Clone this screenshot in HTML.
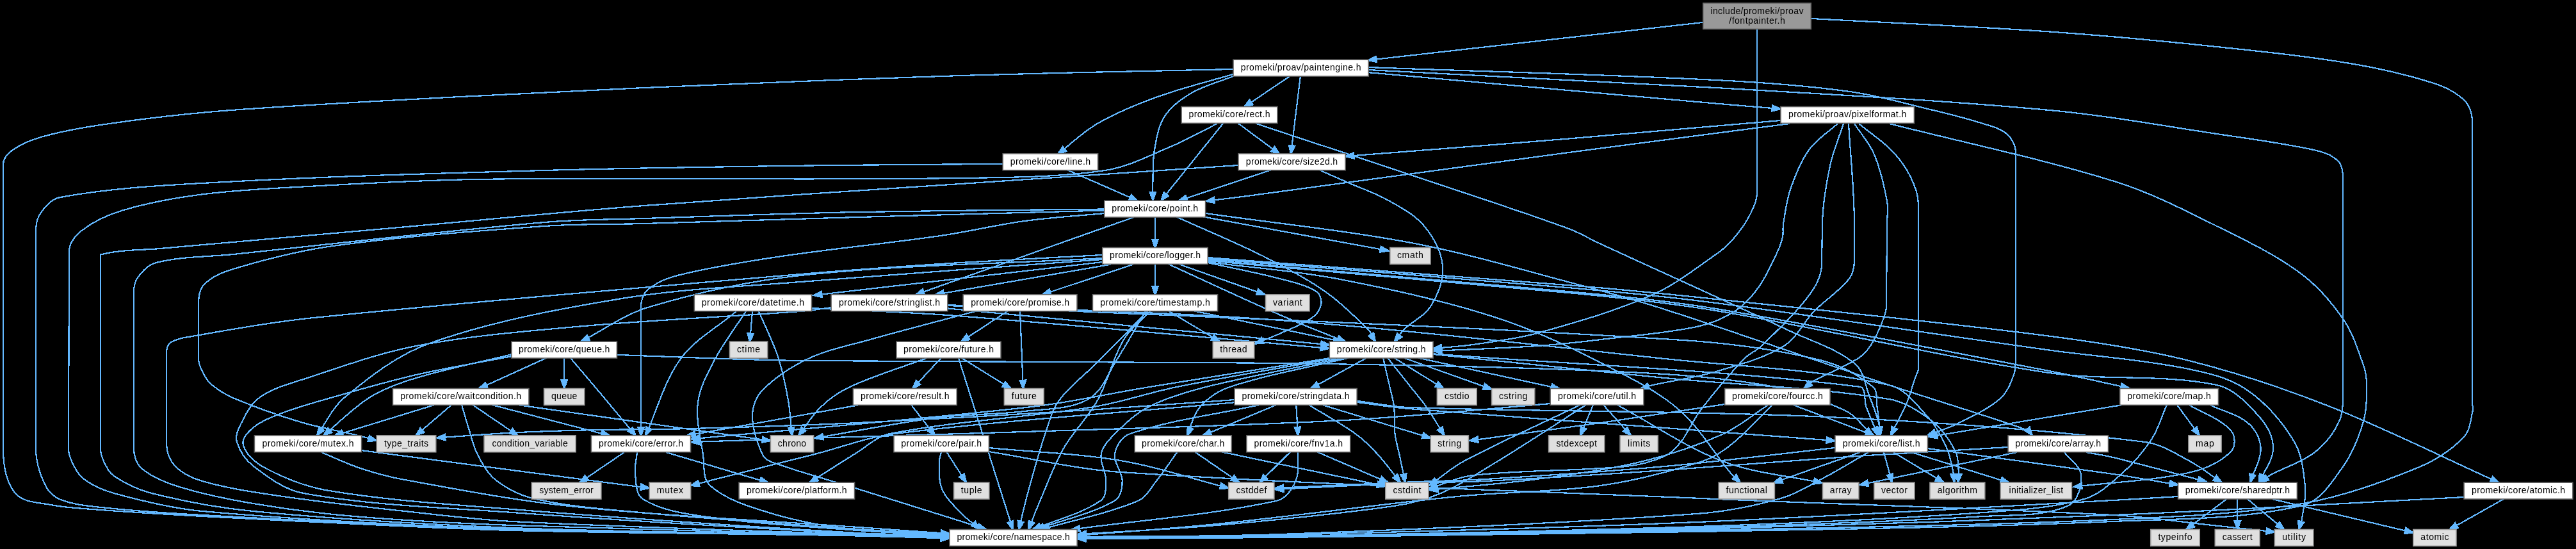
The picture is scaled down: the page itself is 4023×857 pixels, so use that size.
<!DOCTYPE html><html><head><meta charset="utf-8"><style>html,body{margin:0;padding:0;background:#000;width:4023px;height:857px;overflow:hidden}svg{display:block}text{font-family:"Liberation Sans",sans-serif;}</style></head><body><svg width="4023" height="857" viewBox="0 0 4023 857">
<g fill="none" stroke="#63b8ff" stroke-width="2.20" shape-rendering="crispEdges">
<path d="M2097.3,558.8 C2026.4,573.8 1954.8,586.1 1884.5,603.8 C1853.5,611.6 1822.3,620.5 1793.9,635.1 C1773.9,645.3 1757.2,661.3 1741.2,677.1 C1732.3,686.0 1722.2,696.0 1719.8,708.5 C1717.2,722.4 1727.5,736.2 1727.3,750.5 C1727.1,761.3 1727.7,775.8 1718.7,781.8 C1686.7,803.1 1647.9,811.8 1612.5,826.8"/>
<path d="M2167.2,558.8 C2179.1,573.8 2191.1,588.8 2202.9,603.8 C2211.2,614.2 2220.0,624.2 2227.5,635.1 C2237.6,649.7 2246.4,665.1 2255.8,680.1"/>
<path d="M2177.6,558.8 L2254.9,606.8"/>
<path d="M2160.1,558.8 C2163.5,573.8 2167.0,588.8 2170.4,603.8 C2172.7,614.2 2175.9,624.5 2177.1,635.1 C2178.6,649.0 2176.9,663.2 2178.5,677.1 C2179.6,687.7 2183.0,698.0 2185.2,708.5 C2188.4,723.4 2191.5,738.4 2194.7,753.4"/>
<path d="M2192.8,558.8 L2329.9,607.6"/>
<path d="M2078.0,558.8 C1984.1,573.8 1890.3,588.5 1796.5,603.8 C1734.5,613.9 1673.1,628.0 1610.7,635.1 C1433.6,655.3 1255.8,668.7 1078.3,685.5"/>
<path d="M2087.3,558.8 C2004.5,573.8 1921.4,587.2 1838.9,603.8 C1794.9,612.6 1752.3,627.9 1708.0,635.1 C1602.3,652.4 1494.5,656.4 1389.5,677.1 C1369.0,681.1 1353.1,697.6 1335.3,708.5 C1311.3,723.0 1287.9,738.4 1264.3,753.4"/>
<path d="M2237.9,552.3 C2460.0,569.5 2683.1,576.7 2904.3,603.8 C2915.2,605.1 2910.6,624.8 2914.5,635.1 C2920.2,650.3 2926.8,665.1 2933.0,680.1"/>
<path d="M2134.1,558.8 L2046.7,606.8"/>
<path d="M2105.4,558.8 C2044.1,573.8 1981.4,584.0 1921.4,603.8 C1903.5,609.7 1886.8,621.0 1874.3,635.1 C1863.3,647.5 1860.5,665.1 1853.5,680.1"/>
<path d="M2215.4,558.8 L2435.9,606.8"/>
<path d="M3547.7,778.8 L3769.1,831.5"/>
<path d="M3494.4,778.8 L3494.3,826.8"/>
<path d="M3509.7,778.8 L3567.4,826.8"/>
<path d="M3477.7,778.8 L3413.8,826.8"/>
<path d="M1966.8,632.1 C1899.5,647.1 1830.2,655.0 1764.9,677.1 C1752.4,681.3 1743.2,695.5 1741.1,708.5 C1738.7,722.8 1752.8,735.9 1752.7,750.5 C1752.7,761.6 1750.4,776.3 1740.6,781.8 C1702.5,803.3 1658.4,811.8 1617.3,826.8"/>
<path d="M2065.1,632.1 L2234.5,683.8"/>
<path d="M2044.1,632.1 C2068.3,647.1 2093.6,660.5 2116.8,677.1 C2129.4,686.1 2140.5,697.1 2150.9,708.5 C2164.0,722.6 2175.1,738.4 2187.2,753.4"/>
<path d="M2024.3,632.1 L2027.1,680.1"/>
<path d="M1928.3,628.2 C1751.2,644.5 1573.6,655.5 1397.1,677.1 C1355.1,682.3 1315.1,698.0 1274.0,708.5 C1208.8,725.0 1143.6,741.5 1078.4,758.0"/>
<path d="M1993.2,632.1 L1878.1,680.1"/>
<path d="M2026.9,705.5 C2025.8,720.5 2029.7,736.7 2023.7,750.5 C2017.9,763.7 2007.8,778.7 1993.6,781.8 C1888.1,804.7 1779.8,811.8 1672.9,826.8"/>
<path d="M2057.1,705.5 L2168.1,753.4"/>
<path d="M2015.1,705.5 L1967.0,753.4"/>
<path d="M1838.6,705.5 C1827.8,720.5 1817.8,736.0 1806.2,750.5 C1797.3,761.5 1790.5,776.3 1777.4,781.8 C1728.7,802.3 1676.1,811.8 1625.4,826.8"/>
<path d="M1908.1,705.5 L2164.1,759.1"/>
<path d="M1866.1,705.5 L1935.9,753.4"/>
<path d="M1479.7,481.4 L2076.5,538.4"/>
<path d="M1479.7,477.0 C1859.9,494.8 2240.5,506.8 2620.5,530.5 C2694.8,535.1 2769.2,544.4 2841.5,561.8 C2871.8,569.1 2900.7,584.1 2924.8,603.8 C2933.1,610.5 2929.9,624.6 2931.5,635.1 C2933.9,650.0 2935.0,665.1 2936.7,680.1"/>
<path d="M3910.4,778.8 L3825.0,826.8"/>
<path d="M1865.0,485.5 L2096.2,533.4"/>
<path d="M1825.2,485.5 L1905.3,533.4"/>
<path d="M881.2,558.8 L881.2,606.8"/>
<path d="M853.3,558.8 L747.6,606.8"/>
<path d="M768.3,632.1 L952.4,680.1"/>
<path d="M705.0,632.1 L649.2,680.1"/>
<path d="M809.1,632.1 L1203.7,688.1"/>
<path d="M738.3,632.1 L809.0,680.1"/>
<path d="M678.5,632.1 L522.2,680.1"/>
<path d="M1573.8,485.5 L1500.8,533.4"/>
<path d="M1447.7,558.8 C1407.6,573.8 1366.3,585.9 1327.5,603.8 C1310.8,611.5 1295.4,622.5 1282.1,635.1 C1268.3,648.2 1258.6,665.1 1246.9,680.1"/>
<path d="M1501.8,558.8 L1579.0,606.8"/>
<path d="M1469.7,558.8 L1425.1,606.8"/>
<path d="M1342.1,632.1 L1072.2,680.1"/>
<path d="M1423.1,632.1 L1460.4,680.1"/>
<path d="M1478.3,705.5 L1509.1,753.4"/>
<path d="M1927.0,108.0 C1784.7,111.3 1642.3,113.5 1500.0,118.0 C1335.3,123.2 1170.6,130.0 1006.0,137.0 C904.0,141.3 802.0,146.7 700.0,152.0 C633.7,155.4 567.3,158.9 501.0,163.0 C440.3,166.7 379.5,169.9 319.0,175.5 C264.8,180.5 210.8,186.9 157.0,195.0 C125.7,199.7 94.4,205.3 64.0,214.0 C48.5,218.4 33.1,224.7 20.0,234.0 C12.8,239.1 5.0,247.1 5.0,256.0 L5.0,700.0 C5.0,724.2 8.4,751.5 24.0,770.0 C36.4,784.8 60.1,784.3 79.0,788.0 C105.0,793.0 131.6,794.0 158.0,796.0 C210.6,800.0 263.3,803.0 316.0,806.0 C368.6,809.0 421.3,811.6 474.0,814.0 C582.7,818.9 691.3,825.2 800.0,828.0 C980.0,832.6 1160.0,833.0 1340.0,836.0 C1387.7,836.8 1435.3,838.3 1483.0,839.5"/>
<path d="M1567.0,256.0 C1478.0,256.7 1389.0,256.8 1300.0,258.0 C1150.0,260.1 1000.0,261.8 850.0,266.0 C677.6,270.8 505.2,275.4 333.0,285.0 C253.1,289.4 172.7,293.5 94.0,308.0 C80.3,310.5 69.5,323.2 62.0,335.0 C56.0,344.4 56.0,356.8 56.0,368.0 L56.0,700.0 C56.0,720.0 62.2,740.0 71.0,758.0 C75.8,767.8 84.9,776.0 95.0,780.0 C114.9,787.8 136.7,789.7 158.0,792.0 C210.5,797.7 263.3,801.1 316.0,804.0 C477.3,812.8 638.6,821.9 800.0,827.0 C979.9,832.7 1160.0,832.9 1340.0,836.5 C1387.7,837.4 1435.3,839.2 1483.0,840.5"/>
<path d="M1901.0,193.0 C1876.7,205.0 1853.0,218.6 1828.0,229.0 C1794.6,242.9 1761.8,260.7 1726.0,266.0 C1651.4,277.1 1575.4,276.9 1500.0,278.0 C1283.4,281.2 1066.7,278.2 850.0,279.0 C800.0,279.2 750.0,279.4 700.0,281.0 C633.3,283.1 566.6,286.2 500.0,290.0 C439.6,293.5 379.0,295.5 319.0,303.0 C275.8,308.4 232.7,316.1 191.0,328.5 C168.4,335.2 146.3,345.6 127.5,360.0 C117.6,367.6 108.0,379.5 108.0,392.0 L107.0,700.0 C107.0,706.9 109.0,713.8 112.0,720.0 C116.8,729.7 121.4,740.5 130.0,747.0 C144.1,757.7 160.9,765.3 178.0,770.0 C223.3,782.4 269.3,793.8 316.0,798.0 C477.0,812.5 638.5,820.0 800.0,826.0 C979.9,832.7 1160.0,832.3 1340.0,836.0 C1387.7,837.0 1435.3,838.7 1483.0,840.0"/>
<path d="M1934.0,258.0 C1789.3,267.7 1644.7,277.2 1500.0,287.0 C1335.3,298.2 1170.6,308.2 1006.0,321.0 C878.5,330.9 751.3,343.7 624.0,355.0 C499.3,366.0 374.7,377.0 250.0,388.0 C222.0,390.5 193.4,389.4 166.0,395.5 L157.0,397.5 L157.0,700.0 C157.0,706.9 159.0,713.8 162.0,720.0 C166.1,728.4 170.2,737.8 178.0,743.0 C196.0,755.0 216.0,764.7 237.0,770.0 C288.8,783.1 341.8,792.9 395.0,798.0 C529.7,810.9 664.8,818.6 800.0,824.0 C979.9,831.1 1160.0,831.5 1340.0,835.5 C1387.7,836.5 1435.3,837.8 1483.0,839.0"/>
<path d="M1725.0,326.5 C1596.7,328.0 1468.3,328.4 1340.0,331.0 C1228.6,333.2 1117.3,337.4 1006.0,341.0 C954.0,342.7 901.8,342.5 850.0,347.0 C687.8,361.2 526.0,380.2 364.0,397.0 C324.0,401.2 283.0,400.1 244.0,410.0 C231.4,413.2 221.3,424.2 214.0,435.0 C208.9,442.6 209.0,452.8 209.0,462.0 L209.0,700.0 C209.0,711.1 212.6,723.7 221.0,731.0 C236.8,744.7 257.1,752.7 277.0,759.0 C315.5,771.2 355.2,779.2 395.0,786.0 C447.3,794.9 500.1,801.6 553.0,806.0 C635.2,812.9 717.6,817.0 800.0,820.0 C979.9,826.6 1160.0,830.3 1340.0,835.0 C1387.7,836.3 1435.3,837.0 1483.0,838.0"/>
<path d="M1725.0,328.5 C1596.7,332.0 1468.3,335.3 1340.0,339.0 C1228.7,342.2 1117.3,345.8 1006.0,349.0 C954.0,350.5 901.9,349.3 850.0,353.0 C739.8,360.9 629.4,368.9 520.0,384.0 C467.1,391.3 415.1,404.6 364.0,420.0 C347.3,425.0 329.7,432.0 318.0,445.0 C310.0,453.9 310.0,468.0 310.0,480.0 L310.0,560.0 C310.0,567.0 312.9,573.8 316.0,580.0 C319.6,587.3 323.8,594.8 330.0,600.0 C340.8,609.0 353.0,616.5 366.0,622.0 C399.9,636.3 434.7,648.5 470.0,659.0 C499.5,667.8 530.1,672.7 560.0,680.0 C569.6,682.3 579.0,685.3 588.5,688.0"/>
<path d="M1722.0,398.0 C1648.0,402.0 1574.0,405.3 1500.0,410.0 C1416.6,415.3 1333.2,420.9 1250.0,428.0 C996.6,449.6 743.0,470.2 490.0,496.0 C426.3,502.5 363.1,514.0 300.0,525.0 C288.4,527.0 275.8,528.4 266.0,535.0 C261.0,538.4 260.0,546.0 260.0,552.0 L260.0,690.0 C260.0,703.1 264.2,717.4 273.0,727.0 C284.1,739.1 300.2,746.4 316.0,751.0 C354.8,762.3 395.0,768.1 435.0,774.0 C500.4,783.7 566.2,790.8 632.0,798.0 C687.9,804.1 743.8,811.1 800.0,814.0 C979.9,823.1 1160.0,827.9 1340.0,834.0 C1387.7,835.6 1435.3,836.0 1483.0,837.0"/>
<path d="M1725.0,333.0 C1683.3,337.0 1641.5,339.3 1600.0,345.0 C1556.1,351.0 1512.9,361.6 1469.0,368.0 C1384.2,380.3 1298.7,388.2 1214.0,401.0 C1161.7,408.9 1109.3,417.1 1058.0,430.0 C1041.5,434.2 1025.0,441.1 1012.0,452.0 C1004.8,458.1 1001.0,468.6 1001.0,478.0 L1001.0,680.5"/>
<path d="M1299.0,480.0 C1282.7,482.0 1266.4,484.8 1250.0,486.0 C1133.4,494.8 1016.5,499.5 900.0,510.0 C816.4,517.5 732.4,524.3 650.0,540.0 C592.0,551.1 536.1,571.6 480.0,590.0 C454.7,598.3 427.8,604.7 406.0,620.0 C391.3,630.3 383.2,648.0 375.0,664.0 C371.0,671.8 367.3,681.6 370.0,690.0 C374.5,704.2 383.2,717.9 395.0,727.0 C418.8,745.3 444.5,764.7 474.0,770.0 C581.4,789.4 691.2,792.1 800.0,800.0 C979.9,813.1 1159.9,823.5 1340.0,833.0 C1387.6,835.5 1435.3,835.0 1483.0,836.0"/>
<path d="M800.0,556.0 C750.0,565.7 699.6,573.7 650.0,585.0 C606.3,595.0 563.1,607.7 520.0,620.0 C493.1,627.7 466.1,635.0 440.0,645.0 C424.3,651.0 407.9,657.2 395.0,668.0 C387.1,674.6 376.9,685.2 380.0,695.0 C385.1,711.0 400.2,723.2 415.0,731.0 C445.9,747.4 479.5,760.3 514.0,766.0 C608.5,781.7 704.5,787.4 800.0,795.0 C979.8,809.4 1159.9,821.5 1340.0,832.0 C1387.6,834.8 1435.3,834.0 1483.0,835.0"/>
<path d="M2829.0,29.0 C2953.0,35.8 3077.1,40.9 3201.0,49.5 C3288.1,55.6 3375.1,63.8 3462.0,73.0 C3531.5,80.3 3601.1,87.4 3670.0,99.0 C3714.3,106.4 3758.3,116.3 3801.0,130.0 C3818.1,135.5 3835.1,143.6 3848.0,156.0 C3856.3,164.0 3861.0,176.5 3861.0,188.0 L3861.0,630.0 C3861.0,633.3 3862.8,636.8 3862.0,640.0 C3858.4,654.3 3858.2,671.3 3848.0,682.0 C3828.1,702.9 3802.7,719.0 3776.0,730.0 C3717.9,754.0 3657.9,775.5 3596.0,786.0 C3498.4,802.6 3398.9,806.6 3300.0,811.0 C3083.5,820.6 2866.7,823.5 2650.0,828.0 C2433.4,832.5 2216.7,835.3 2000.0,838.0 C1894.0,839.3 1788.0,839.3 1682.0,840.0"/>
<path d="M2951.0,193.0 C3069.0,223.3 3188.7,247.6 3305.0,284.0 C3359.6,301.1 3410.8,327.6 3462.0,353.0 C3506.5,375.0 3552.0,396.5 3592.0,426.0 C3618.8,445.7 3641.2,471.6 3660.0,499.0 C3674.6,520.3 3682.3,545.7 3691.0,570.0 C3694.4,579.5 3696.0,589.9 3696.0,600.0 C3696.0,619.4 3696.4,639.4 3691.0,658.0 C3683.6,683.3 3673.5,708.6 3658.0,730.0 C3641.3,753.1 3623.8,782.5 3596.0,789.0 C3499.6,811.6 3398.9,809.7 3300.0,814.0 C3083.5,823.4 2866.7,825.8 2650.0,830.0 C2433.4,834.2 2216.7,836.5 2000.0,839.0 C1894.0,840.2 1788.0,840.3 1682.0,841.0"/>
<path d="M2136.0,109.0 C2317.3,118.3 2498.7,126.3 2680.0,137.0 C2853.8,147.3 3027.7,156.0 3201.0,172.0 C3288.5,180.1 3375.1,195.9 3462.0,209.0 C3514.1,216.9 3566.6,223.4 3618.0,235.0 C3630.4,237.8 3643.3,242.8 3652.0,252.0 C3658.2,258.5 3659.0,269.0 3659.0,278.0 L3659.0,611.0 C3659.0,626.8 3659.6,643.7 3653.0,658.0 C3644.4,676.5 3631.1,693.5 3615.0,706.0 C3594.3,722.1 3567.9,729.2 3545.0,742.0 C3539.5,745.1 3535.0,749.7 3530.0,753.5"/>
<path d="M2136.0,105.0 C2317.3,111.7 2498.8,115.9 2680.0,125.0 C2749.8,128.5 2819.7,133.4 2889.0,143.0 C2933.0,149.1 2975.8,161.6 3019.0,172.0 C3045.2,178.3 3071.4,184.8 3097.0,193.0 C3109.8,197.1 3123.9,200.1 3134.0,209.0 C3142.0,216.1 3148.0,227.3 3148.0,238.0 L3148.0,556.0 C3148.0,565.7 3148.3,575.9 3145.0,585.0 C3140.2,598.3 3134.6,612.6 3124.0,622.0 C3105.4,638.4 3082.1,648.7 3060.0,660.0 C3044.0,668.1 3026.7,673.3 3010.0,680.0"/>
<path d="M2136.0,113.0 C2317.3,129.2 2498.7,145.6 2680.0,161.6 C2713.7,164.6 2747.3,167.2 2781.0,170.0"/>
<path d="M2659.0,35.0 L2136.5,94.0"/>
<path d="M2744.0,46.0 L2744.0,300.0 C2744.0,313.0 2737.9,325.5 2732.0,337.0 C2725.1,350.4 2715.9,362.6 2706.0,374.0 C2698.4,382.7 2689.5,390.4 2680.0,397.0 C2647.8,419.2 2616.8,444.2 2581.0,460.0 C2523.1,485.5 2461.9,503.1 2401.0,520.0 C2368.0,529.1 2333.8,533.0 2300.0,538.0 C2279.5,541.0 2258.7,542.0 2238.0,544.0"/>
<path d="M2870.0,193.0 C2855.0,206.7 2836.8,217.5 2825.0,234.0 C2811.7,252.5 2803.4,274.4 2796.0,296.0 C2790.0,313.4 2787.9,331.9 2785.0,350.0 C2783.9,356.6 2785.4,363.5 2784.0,370.0 C2782.1,378.6 2778.8,387.0 2775.0,395.0 C2766.1,413.4 2758.0,432.5 2746.0,449.0 C2735.8,463.1 2723.7,476.6 2709.0,486.0 C2691.1,497.4 2670.8,505.6 2650.0,510.0 C2600.6,520.4 2550.1,524.0 2500.0,530.0 C2467.1,534.0 2434.1,537.7 2401.0,540.0 C2346.7,543.7 2292.3,545.3 2238.0,548.0"/>
<path d="M2879.0,193.0 C2872.0,215.0 2862.7,236.4 2858.0,259.0 C2851.7,288.9 2846.5,319.4 2846.0,350.0 L2845.0,413.0 C2844.7,429.9 2836.1,446.4 2826.0,460.0 C2804.3,489.4 2777.1,514.4 2751.0,540.0 C2743.0,547.8 2731.7,551.9 2724.0,560.0 C2699.9,585.4 2677.2,612.2 2656.0,640.0 C2644.1,655.6 2637.0,674.5 2625.0,690.0 C2618.2,698.8 2610.1,707.5 2600.0,712.0 C2581.1,720.4 2560.6,725.9 2540.0,728.0 C2460.3,736.0 2379.6,733.0 2300.0,742.0 C2276.1,744.7 2254.0,756.0 2231.0,763.0"/>
<path d="M2887.0,193.0 C2890.0,245.3 2896.0,297.6 2896.0,350.0 L2896.0,405.0 C2896.0,415.3 2894.4,426.8 2888.0,435.0 C2872.7,454.7 2850.4,468.1 2833.0,486.0 C2816.4,503.1 2806.3,527.5 2786.0,540.0 C2753.8,559.8 2716.2,569.3 2680.0,580.0 C2646.3,590.0 2611.2,594.2 2577.0,602.0 C2571.9,603.2 2567.0,605.3 2562.0,607.0"/>
<path d="M2896.0,193.0 C2906.3,209.0 2919.6,223.4 2927.0,241.0 C2936.8,264.2 2942.4,289.2 2947.0,314.0 C2949.2,325.8 2947.1,338.0 2947.0,350.0 L2946.0,478.0 C2945.9,487.0 2942.4,495.7 2939.0,504.0 C2934.0,516.4 2928.5,528.9 2921.0,540.0 C2915.7,547.8 2909.0,555.1 2901.0,560.0 C2878.4,573.9 2853.2,583.1 2830.0,596.0 C2825.1,598.7 2821.3,603.0 2817.0,606.5"/>
<path d="M2903.0,193.0 C2922.0,209.0 2943.8,222.2 2960.0,241.0 C2973.9,257.0 2985.3,275.9 2992.0,296.0 C2997.7,313.1 2996.0,332.0 2996.0,350.0 L2996.0,575.0 C2996.0,580.3 2992.7,585.0 2991.0,590.0 C2986.4,603.7 2982.6,617.7 2977.0,631.0 C2971.5,644.1 2964.2,656.3 2958.0,669.0 C2956.2,672.6 2954.7,676.3 2953.0,680.0"/>
<path d="M2781.0,188.0 C2670.7,197.5 2560.4,207.4 2450.0,216.5 C2333.7,226.1 2217.3,234.8 2101.0,244.0"/>
<path d="M2795.0,193.0 C2680.0,208.0 2565.0,222.7 2450.0,238.0 C2283.3,260.2 2116.7,283.4 1950.0,305.7 C1927.7,308.7 1905.3,311.2 1883.0,314.0"/>
<path d="M1927.0,115.5 C1887.3,127.3 1846.9,136.9 1808.0,151.0 C1775.9,162.6 1744.1,175.5 1714.5,192.5 C1691.7,205.6 1672.8,224.5 1652.0,240.5"/>
<path d="M1927.0,118.6 C1904.7,127.6 1880.8,133.4 1860.0,145.6 C1844.1,154.9 1828.6,166.6 1818.6,182.0 C1808.8,197.2 1806.1,216.2 1803.0,234.0 C1800.0,250.8 1800.9,268.0 1800.4,285.0 C1800.1,294.5 1800.5,304.0 1800.5,313.5"/>
<path d="M2013.6,119.6 L1943.0,167.0"/>
<path d="M2030.8,119.6 L2016.0,240.5"/>
<path d="M1910.0,192.8 L1813.0,313.5"/>
<path d="M1934.0,192.8 L1998.5,240.5"/>
<path d="M1961.0,192.8 C2048.7,221.9 2136.4,250.6 2224.0,280.0 C2299.4,305.3 2375.2,329.7 2450.0,357.0 C2466.7,363.1 2481.9,372.6 2498.0,380.0 C2597.2,425.9 2697.1,470.4 2796.0,517.0 C2830.1,533.1 2868.0,543.9 2897.0,568.0 C2911.6,580.1 2912.9,602.4 2920.0,620.0 C2925.3,633.1 2930.4,646.4 2934.0,660.0 C2935.7,666.5 2935.3,673.3 2936.0,680.0"/>
<path d="M1667.6,265.6 L1777.0,313.5"/>
<path d="M1984.5,265.6 L1840.6,313.5"/>
<path d="M2061.0,265.6 C2075.7,272.1 2090.3,278.5 2105.0,285.0 C2126.2,294.3 2148.5,301.6 2168.6,313.0 C2188.3,324.2 2209.5,335.1 2224.0,352.6 C2238.6,370.3 2251.0,392.1 2253.0,415.0 C2254.9,436.6 2246.0,458.9 2234.8,477.5 C2225.2,493.3 2206.2,501.1 2193.0,514.0 C2187.0,519.8 2182.7,527.1 2177.5,533.6"/>
<path d="M1804.0,339.0 L1804.0,387.3"/>
<path d="M1877.0,338.0 L2169.0,391.5"/>
<path d="M1883.0,333.0 C1991.7,348.7 2101.2,359.4 2209.0,380.0 C2293.7,396.2 2376.6,421.0 2460.0,443.0 C2506.9,455.4 2553.8,468.1 2600.0,483.0 C2717.2,520.8 2833.2,562.1 2950.0,601.0 C3022.5,625.1 3095.9,646.6 3168.0,672.0 C3171.1,673.1 3172.0,677.3 3174.0,680.0"/>
<path d="M1771.0,339.0 C1741.7,349.3 1712.3,359.6 1683.0,370.0 C1598.6,399.9 1514.3,430.0 1430.0,460.0"/>
<path d="M1836.0,338.0 C1881.7,358.7 1928.2,377.6 1973.0,400.0 C2005.9,416.5 2038.8,433.5 2069.0,454.6 C2093.8,472.0 2115.6,493.4 2137.0,514.8 C2142.1,519.9 2144.3,527.3 2148.0,533.6"/>
<path d="M1804.0,412.7 L1804.0,460.6"/>
<path d="M1842.0,412.7 L1976.0,460.0"/>
<path d="M1769.6,412.7 L1627.5,460.0"/>
<path d="M1735.0,412.7 L1460.4,460.0"/>
<path d="M1722.0,409.0 C1638.1,418.7 1554.3,428.4 1470.4,438.0 C1403.6,445.7 1336.8,453.3 1270.0,461.0"/>
<path d="M1722.0,403.0 C1564.7,412.0 1406.7,413.0 1250.0,430.0 C1169.2,438.8 1089.3,456.5 1011.5,480.0 C974.0,491.3 941.8,515.7 907.0,533.5"/>
<path d="M1722.0,405.0 C1564.7,416.7 1407.2,427.2 1250.0,440.0 C1156.9,447.6 1063.1,450.7 971.0,466.0 C869.6,482.8 767.6,501.5 670.8,536.0 C621.6,553.5 579.0,586.9 538.6,620.0 C519.4,635.7 509.3,660.0 494.7,680.0"/>
<path d="M1886.0,410.0 C1924.2,418.5 1962.7,425.5 2000.5,435.5 C2019.1,440.4 2038.6,444.6 2055.0,454.6 C2061.0,458.2 2064.3,466.9 2063.4,473.8 C2062.3,482.3 2056.6,490.5 2049.7,495.6 C2034.9,506.4 2017.2,512.4 2000.5,520.0 C1987.1,526.1 1973.2,531.1 1959.5,536.6"/>
<path d="M1825.7,412.7 C1865.8,431.1 1905.8,449.8 1946.0,468.0 C1973.2,480.3 2000.5,492.4 2028.0,504.0 C2052.4,514.3 2077.1,523.7 2101.6,533.6"/>
<path d="M1886.0,402.0 C2077.3,416.7 2268.7,430.3 2460.0,446.0 C2533.4,452.0 2606.7,459.2 2680.0,467.0 C2853.4,485.4 3027.1,502.1 3200.0,524.6 C3273.4,534.1 3346.8,545.0 3418.6,563.0 C3492.9,581.6 3565.8,606.0 3637.0,634.0 C3727.5,669.6 3814.3,713.7 3903.0,753.5"/>
<path d="M1886.0,404.0 C2077.3,419.3 2268.8,433.4 2460.0,450.0 C2533.5,456.4 2606.9,463.5 2680.0,473.0 C2853.6,495.6 3026.6,522.4 3200.0,546.5 C3269.1,556.1 3339.1,560.5 3407.6,574.0 C3441.5,580.7 3477.1,587.7 3506.0,606.6 C3537.3,627.1 3563.0,656.7 3582.5,688.6 C3595.3,709.5 3597.5,735.6 3600.0,760.0 C3601.7,776.7 3597.5,793.4 3595.0,810.0 C3594.1,815.8 3591.7,821.3 3590.0,827.0"/>
<path d="M1886.0,407.0 C2077.3,424.0 2268.8,439.2 2460.0,458.0 C2533.5,465.2 2607.1,472.8 2680.0,485.0 C2853.9,514.1 3025.6,556.1 3200.0,582.0 C3286.6,594.8 3376.3,583.2 3462.0,601.0 C3488.8,606.6 3509.7,629.6 3528.0,650.0 C3540.0,663.5 3550.0,681.4 3550.0,699.5 C3550.0,718.9 3535.3,735.5 3528.0,753.5"/>
<path d="M1886.0,406.0 C2077.3,422.7 2268.8,437.7 2460.0,456.0 C2533.5,463.0 2607.2,469.9 2680.0,482.0 C2853.9,510.9 3026.8,545.7 3200.0,579.0 C3242.1,587.1 3283.8,597.0 3325.7,606.0"/>
<path d="M1886.0,409.0 C1955.0,418.0 2024.7,422.6 2093.0,436.0 C2179.3,453.0 2265.7,471.7 2349.0,500.0 C2417.4,523.2 2481.9,556.7 2546.0,590.0 C2575.2,605.2 2604.1,622.3 2628.0,645.0 C2657.4,672.9 2678.1,708.8 2704.0,740.0 C2708.1,745.0 2713.3,749.0 2718.0,753.5"/>
<path d="M3418.6,632.0 C3440.4,645.3 3466.9,653.0 3484.0,672.0 C3491.3,680.2 3491.8,697.2 3484.0,705.0 C3466.8,722.3 3442.4,732.5 3418.6,737.8 C3359.4,751.0 3298.2,752.6 3238.0,760.0"/>
<path d="M3384.0,632.0 C3376.0,650.0 3370.8,669.5 3360.0,686.0 C3346.9,705.9 3330.9,724.2 3313.0,740.0 C3295.6,755.4 3277.4,772.7 3255.0,779.0 C3204.1,793.2 3150.7,796.3 3098.0,800.0 C2948.9,810.6 2799.4,817.0 2650.0,822.0 C2433.4,829.3 2216.7,833.2 2000.0,837.0 C1894.0,838.9 1788.0,838.3 1682.0,839.0"/>
<path d="M3315.0,632.0 L3012.0,682.0"/>
<path d="M3400.0,632.0 L3435.0,680.0"/>
<path d="M3451.0,632.0 C3471.2,641.7 3494.4,646.5 3511.5,661.0 C3522.4,670.3 3530.2,685.2 3530.6,699.5 C3531.1,718.3 3519.5,735.5 3514.0,753.5"/>
<path d="M3150.0,706.0 L2904.0,757.0"/>
<path d="M3136.0,698.0 C3057.3,702.7 2978.6,706.7 2900.0,712.0 C2800.0,718.7 2700.0,727.3 2600.0,734.0 C2506.7,740.3 2413.4,746.3 2320.0,751.0 C2280.0,753.0 2240.0,752.4 2200.0,754.0 C2130.3,756.8 2060.7,760.7 1991.0,764.0"/>
<path d="M3224.0,706.0 C3232.7,718.0 3249.1,727.2 3250.0,742.0 C3251.0,759.4 3245.1,783.2 3229.0,790.0 C3188.5,807.1 3141.9,803.4 3098.0,806.0 C2948.8,814.8 2799.4,819.6 2650.0,824.0 C2433.4,830.3 2216.7,834.4 2000.0,838.0 C1894.0,839.8 1788.0,839.3 1682.0,840.0"/>
<path d="M3258.0,706.0 C3272.0,708.7 3286.2,710.6 3300.0,714.0 C3348.8,726.0 3397.3,739.3 3446.0,752.0"/>
<path d="M2866.0,699.0 C2777.3,708.7 2688.8,720.0 2600.0,728.0 C2506.8,736.4 2413.4,742.3 2320.0,748.0 C2280.0,750.4 2240.0,750.8 2200.0,752.5 C2130.3,755.5 2060.7,758.8 1991.0,762.0"/>
<path d="M2905.0,706.0 L2770.0,753.5"/>
<path d="M2918.0,706.0 C2895.3,719.0 2873.1,732.8 2850.0,745.0 C2827.4,756.9 2805.5,771.0 2781.0,778.0 C2738.3,790.2 2694.3,798.8 2650.0,802.0 C2433.6,817.5 2216.8,825.9 2000.0,834.0 C1894.1,837.9 1788.0,836.7 1682.0,838.0"/>
<path d="M2942.0,706.0 L2955.0,753.5"/>
<path d="M2957.0,706.0 L3036.0,753.5"/>
<path d="M2985.0,706.0 L3138.0,753.5"/>
<path d="M3010.0,700.0 C3106.7,713.3 3203.4,726.0 3300.0,740.0 C3334.1,745.0 3368.0,751.3 3402.0,757.0"/>
<path d="M2238.0,553.0 C2358.7,565.3 2479.3,578.1 2600.0,590.0 C2716.6,601.5 2834.3,604.2 2950.0,623.0 C2975.2,627.1 2998.0,642.2 3018.0,658.0 C3033.5,670.2 3045.2,687.3 3054.0,705.0 C3059.3,715.5 3058.0,728.3 3059.0,740.0 C3059.4,744.5 3058.3,749.0 3058.0,753.5"/>
<path d="M1479.0,476.0 C1652.7,484.0 1826.6,487.0 2000.0,500.0 C2200.4,515.0 2400.1,538.8 2600.0,560.0 C2716.8,572.4 2835.3,575.8 2950.0,601.0 C2975.2,606.5 2992.5,631.0 3010.0,650.0 C3023.0,664.1 3032.1,681.6 3040.0,699.0 C3045.9,711.9 3048.0,726.2 3051.0,740.0 C3052.0,744.4 3051.7,749.0 3052.0,753.5"/>
<path d="M1544.0,705.0 C1612.7,715.7 1680.7,732.5 1750.0,737.0 C2059.7,757.2 2370.0,765.6 2680.0,779.0 C2886.6,787.9 3093.5,793.0 3300.0,804.0 C3353.5,806.8 3406.7,814.9 3460.0,820.5 C3491.0,823.7 3522.0,827.2 3553.0,830.5"/>
<path d="M1544.0,699.0 C1612.7,705.7 1682.0,707.6 1750.0,719.0 C1807.3,728.6 1862.7,747.7 1919.0,762.0"/>
<path d="M721.0,632.0 C724.7,644.3 728.1,656.7 732.0,669.0 C736.4,682.8 739.2,697.2 746.0,710.0 C753.7,724.5 761.9,740.0 775.0,750.0 C792.9,763.7 814.0,774.1 836.0,779.0 C889.8,791.0 945.1,794.9 1000.0,800.0 C1113.2,810.6 1226.6,818.0 1340.0,826.0 C1387.6,829.4 1435.3,831.3 1483.0,834.0"/>
<path d="M502.0,706.0 C521.3,714.0 540.2,723.3 560.0,730.0 C581.9,737.4 604.2,743.9 627.0,748.0 C714.0,763.9 801.0,780.7 889.0,790.0 C1038.9,805.8 1189.7,812.1 1340.0,823.0 C1387.7,826.5 1435.3,829.7 1483.0,833.0"/>
<path d="M564.0,703.0 L1014.0,762.0"/>
<path d="M995.0,706.0 C994.0,717.3 990.6,728.7 992.0,740.0 C993.7,753.5 992.5,771.8 1004.0,779.0 C1031.7,796.2 1065.7,801.3 1098.0,806.0 C1178.2,817.7 1259.2,821.7 1340.0,828.0 C1387.6,831.7 1435.3,833.3 1483.0,836.0"/>
<path d="M975.0,706.0 L905.0,753.5"/>
<path d="M1040.0,706.0 L1200.0,753.5"/>
<path d="M800.0,553.0 C750.0,565.3 699.3,575.1 650.0,590.0 C625.1,597.5 600.1,606.3 578.0,620.0 C551.2,636.6 529.3,660.0 505.0,680.0"/>
<path d="M1165.0,486.0 C1149.0,510.7 1130.7,534.0 1117.0,560.0 C1105.6,581.6 1093.1,603.8 1090.0,628.0 C1086.5,655.2 1094.0,682.8 1098.0,710.0 C1100.4,726.2 1096.7,747.1 1109.0,758.0 C1134.1,780.1 1168.1,790.1 1200.0,800.0 C1241.3,812.9 1284.1,820.7 1327.0,826.0 C1378.7,832.4 1431.0,832.0 1483.0,835.0"/>
<path d="M1523.0,486.0 C1468.3,500.7 1413.5,514.6 1359.0,530.0 C1326.4,539.2 1292.6,545.5 1262.0,560.0 C1235.6,572.5 1210.3,589.0 1190.0,610.0 C1180.1,620.2 1174.9,635.8 1175.0,650.0 C1175.2,670.7 1182.6,691.1 1191.0,710.0 C1193.7,716.1 1200.7,719.8 1207.0,722.0 C1250.4,737.5 1295.0,749.3 1339.0,763.0 C1406.0,783.9 1473.0,805.0 1540.0,826.0"/>
<path d="M1150.0,486.0 C1121.0,510.7 1085.4,529.3 1063.0,560.0 C1037.0,595.7 1026.3,640.3 1008.0,680.5"/>
<path d="M1175.0,486.0 L1171.0,534.0"/>
<path d="M1185.0,486.0 C1195.0,509.7 1206.9,532.6 1215.0,557.0 C1222.3,579.1 1226.9,602.1 1231.0,625.0 C1234.3,643.3 1235.0,662.0 1237.0,680.5"/>
<path d="M1267.0,481.0 C1338.0,484.7 1409.1,486.7 1480.0,492.0 C1620.1,502.4 1760.0,515.8 1900.0,528.0 C1958.7,533.1 2017.3,538.7 2076.0,544.0"/>
<path d="M2468.0,632.0 C2407.3,661.3 2345.4,688.3 2286.0,720.0 C2266.6,730.4 2250.0,745.3 2232.0,758.0"/>
<path d="M2477.0,632.0 C2431.0,661.3 2385.6,691.7 2339.0,720.0 C2309.9,737.7 2281.3,756.6 2250.0,770.0 C2226.5,780.1 2201.3,786.4 2176.0,790.0 C2084.4,803.1 1992.2,811.8 1900.0,820.0 C1827.8,826.4 1755.3,829.3 1683.0,834.0"/>
<path d="M2422.0,630.0 C2314.7,638.7 2207.5,650.2 2100.0,656.0 C1933.5,664.9 1766.7,668.4 1600.0,674.0 C1500.0,677.4 1400.0,679.9 1300.0,683.0 C1226.3,685.3 1152.7,687.7 1079.0,690.0"/>
<path d="M2525.5,632.0 C2580.3,661.3 2631.9,697.9 2690.0,720.0 C2739.7,738.9 2794.0,742.7 2846.0,754.0"/>
<path d="M2488.0,632.0 L2468.0,680.0"/>
<path d="M2504.0,632.0 L2547.0,680.0"/>
<path d="M2694.0,631.0 C2629.3,640.7 2564.7,650.8 2500.0,660.0 C2431.7,669.8 2363.3,678.7 2295.0,688.0"/>
<path d="M2761.5,632.0 C2737.7,647.3 2715.8,666.4 2690.0,678.0 C2650.2,695.9 2608.4,709.8 2566.0,720.0 C2511.5,733.2 2455.6,740.5 2400.0,748.0 C2344.2,755.5 2288.0,759.3 2232.0,765.0"/>
<path d="M2768.0,632.0 C2747.0,652.3 2727.7,674.6 2705.0,693.0 C2691.2,704.2 2675.9,714.6 2659.0,720.0 C2607.1,736.5 2553.9,750.3 2500.0,758.0 C2425.9,768.6 2350.5,767.5 2276.0,775.0 C2150.5,787.6 2025.5,805.1 1900.0,818.0 C1827.8,825.4 1755.3,830.0 1683.0,836.0"/>
<path d="M2800.0,632.0 L2927.0,680.0"/>
<path d="M2120.0,628.0 C2146.7,631.3 2173.2,635.8 2200.0,638.0 C2333.2,649.1 2466.7,658.0 2600.0,668.0 C2688.7,674.7 2777.3,681.3 2866.0,688.0"/>
<path d="M2120.0,626.0 C2146.7,629.3 2173.1,635.1 2200.0,636.0 C2418.6,643.4 2637.5,640.7 2856.0,651.0 C3021.0,658.7 3186.0,669.9 3350.0,690.0 C3375.2,693.1 3397.6,708.1 3420.0,720.0 C3437.7,729.4 3453.3,742.3 3470.0,753.5"/>
<path d="M3849.0,776.0 C3666.0,785.3 3483.1,796.4 3300.0,804.0 C3083.4,813.0 2866.7,820.3 2650.0,826.0 C2433.4,831.7 2216.7,834.8 2000.0,838.0 C1894.3,839.6 1788.7,839.7 1683.0,840.5"/>
<path d="M3402.0,775.0 C3368.0,777.0 3334.0,779.2 3300.0,781.0 C3083.3,792.5 2866.8,806.0 2650.0,815.0 C2433.4,824.0 2216.7,829.8 2000.0,835.0 C1894.4,837.5 1788.7,837.0 1683.0,838.0"/>
<path d="M1497.0,559.0 L1582.0,827.0"/>
<path d="M1796.0,486.0 C1782.3,500.7 1765.2,512.7 1755.0,530.0 C1737.5,559.7 1730.7,594.8 1714.0,625.0 C1699.2,651.8 1676.2,673.5 1661.0,700.0 C1646.4,725.4 1636.6,753.2 1625.0,780.0 C1618.3,795.5 1612.3,811.3 1606.0,827.0"/>
<path d="M1789.0,486.0 C1774.3,510.7 1760.6,535.9 1745.0,560.0 C1730.9,581.6 1722.5,610.3 1700.0,623.0 C1670.5,639.7 1633.7,637.9 1600.0,642.0 C1554.9,647.5 1509.1,646.2 1464.0,652.0 C1399.6,660.2 1336.0,673.3 1272.0,684.0"/>
<path d="M1792.0,486.0 C1766.2,512.3 1740.5,538.8 1714.5,565.0 C1694.5,585.2 1670.9,602.2 1654.0,625.0 C1643.2,639.5 1638.8,657.9 1633.0,675.0 C1622.4,706.3 1613.8,738.2 1605.0,770.0 C1599.8,788.9 1595.7,808.0 1591.0,827.0"/>
<path d="M1929.0,624.0 C1852.7,629.3 1776.4,635.3 1700.0,640.0 C1580.0,647.3 1460.1,654.4 1340.0,660.0 C1253.4,664.1 1166.7,666.7 1080.0,669.0 C1023.7,670.5 967.3,670.2 911.0,671.5 C873.7,672.4 836.3,673.6 799.0,675.6 C760.0,677.6 721.0,680.9 682.0,683.5"/>
<path d="M1470.0,706.0 C1469.0,710.7 1466.9,715.2 1467.0,720.0 C1467.3,734.4 1465.5,749.7 1471.0,763.0 C1477.0,777.5 1489.3,788.6 1500.0,800.0 C1509.0,809.7 1520.0,817.3 1530.0,826.0"/>
<path d="M1593.0,486.0 L1598.0,607.0"/>
<path d="M891.0,559.0 C909.7,581.0 928.4,602.9 947.0,625.0 C962.4,643.4 977.7,662.0 993.0,680.5"/>
<path d="M963.0,554.0 C1058.7,557.0 1154.3,561.8 1250.0,563.0 C1483.3,566.0 1716.7,563.5 1950.0,566.5 C2133.4,568.8 2316.8,571.3 2500.0,579.0 C2583.6,582.5 2667.4,586.7 2750.0,600.0 C2794.8,607.2 2838.8,621.2 2880.0,640.0 C2898.3,648.3 2910.0,666.7 2925.0,680.0"/>
</g>
<path fill="#63b8ff" stroke="#63b8ff" stroke-width="2.20" shape-rendering="crispEdges" d="M1623.0,817.3 L1612.5,826.8 L1626.6,825.9 Z M2244.8,671.3 L2255.8,680.1 L2252.7,666.3 Z M2241.1,603.7 L2254.9,606.8 L2246.0,595.8 Z M2187.4,741.4 L2194.7,753.4 L2196.5,739.4 Z M2315.7,607.5 L2329.9,607.6 L2318.9,598.7 Z M1091.2,679.6 L1078.3,685.5 L1092.0,688.9 Z M1273.0,742.4 L1264.3,753.4 L1278.0,750.3 Z M2923.6,669.6 L2933.0,680.1 L2932.2,666.0 Z M2056.1,596.3 L2046.7,606.8 L2060.6,604.5 Z M1854.9,666.1 L1853.5,680.1 L1863.4,670.0 Z M2421.9,608.5 L2435.9,606.8 L2423.9,599.4 Z M3755.0,833.0 L3769.1,831.5 L3757.2,823.9 Z M3489.6,813.4 L3494.3,826.8 L3499.0,813.5 Z M3554.1,821.8 L3567.4,826.8 L3560.1,814.7 Z M3421.7,815.0 L3413.8,826.8 L3427.3,822.5 Z M1628.2,817.8 L1617.3,826.8 L1631.4,826.6 Z M2220.4,684.4 L2234.5,683.8 L2223.1,675.5 Z M2175.2,746.0 L2187.2,753.4 L2182.5,740.1 Z M2021.7,667.1 L2027.1,680.1 L2031.0,666.5 Z M1090.2,750.2 L1078.4,758.0 L1092.5,759.3 Z M1888.6,670.7 L1878.1,680.1 L1892.2,679.3 Z M1685.4,820.3 L1672.9,826.8 L1686.7,829.6 Z M2154.0,752.4 L2168.1,753.4 L2157.7,743.9 Z M1973.1,740.7 L1967.0,753.4 L1979.7,747.3 Z M1636.8,818.5 L1625.4,826.8 L1639.5,827.5 Z M2150.1,761.0 L2164.1,759.1 L2152.0,751.8 Z M1922.3,749.7 L1935.9,753.4 L1927.5,742.0 Z M2062.8,541.8 L2076.5,538.4 L2063.7,532.5 Z M2930.6,667.4 L2936.7,680.1 L2939.8,666.3 Z M3834.3,816.2 L3825.0,826.8 L3838.9,824.3 Z M2082.2,535.3 L2096.2,533.4 L2084.1,526.2 Z M1891.5,530.6 L1905.3,533.4 L1896.3,522.6 Z M876.5,593.4 L881.2,606.8 L885.9,593.4 Z M757.8,597.0 L747.6,606.8 L761.7,605.5 Z M938.3,681.3 L952.4,680.1 L940.7,672.2 Z M656.3,667.9 L649.2,680.1 L662.4,675.0 Z M1189.8,690.8 L1203.7,688.1 L1191.1,681.6 Z M795.3,676.5 L809.0,680.1 L800.6,668.8 Z M533.6,671.7 L522.2,680.1 L536.3,680.7 Z M1509.4,522.2 L1500.8,533.4 L1514.5,530.0 Z M1251.4,666.7 L1246.9,680.1 L1258.8,672.5 Z M1565.2,603.7 L1579.0,606.8 L1570.1,595.8 Z M1430.7,593.8 L1425.1,606.8 L1437.6,600.2 Z M1084.5,673.2 L1072.2,680.1 L1086.2,682.4 Z M1448.5,672.4 L1460.4,680.1 L1455.9,666.7 Z M1498.0,744.7 L1509.1,753.4 L1505.8,739.7 Z M1469.6,843.8 L1483.0,839.5 L1469.8,834.5 Z M1469.5,844.8 L1483.0,840.5 L1469.8,835.5 Z M1469.5,844.3 L1483.0,840.0 L1469.8,835.0 Z M1469.6,843.3 L1483.0,839.0 L1469.8,834.0 Z M1469.6,842.4 L1483.0,838.0 L1469.8,833.1 Z M574.4,688.9 L588.5,688.0 L576.9,679.9 Z M1469.6,841.4 L1483.0,837.0 L1469.8,832.1 Z M996.3,667.2 L1001.0,680.5 L1005.7,667.2 Z M1469.6,840.4 L1483.0,836.0 L1469.8,831.1 Z M1469.6,839.4 L1483.0,835.0 L1469.8,830.1 Z M1695.3,835.2 L1682.0,840.0 L1695.4,844.6 Z M1695.3,836.2 L1682.0,841.0 L1695.4,845.6 Z M3537.7,741.7 L3530.0,753.5 L3543.4,749.1 Z M3020.6,670.7 L3010.0,680.0 L3024.1,679.4 Z M2767.3,173.5 L2781.0,170.0 L2768.1,164.2 Z M2149.2,87.9 L2136.5,94.0 L2150.3,97.1 Z M2250.8,538.1 L2238.0,544.0 L2251.7,547.4 Z M2251.1,542.7 L2238.0,548.0 L2251.5,552.0 Z M2242.4,754.7 L2231.0,763.0 L2245.1,763.6 Z M2573.2,598.4 L2562.0,607.0 L2576.1,607.2 Z M2824.4,594.5 L2817.0,606.5 L2830.3,601.8 Z M2954.3,665.9 L2953.0,680.0 L2962.8,669.8 Z M2113.9,238.3 L2101.0,244.0 L2114.7,247.6 Z M1895.7,307.7 L1883.0,314.0 L1896.8,317.0 Z M1659.7,228.7 L1652.0,240.5 L1665.4,236.1 Z M1795.8,300.2 L1800.5,313.5 L1805.1,300.2 Z M1951.5,155.7 L1943.0,167.0 L1956.7,163.4 Z M2013.0,226.7 L2016.0,240.5 L2022.3,227.8 Z M1817.7,300.2 L1813.0,313.5 L1825.0,306.0 Z M1985.0,236.3 L1998.5,240.5 L1990.6,228.8 Z M2930.0,667.2 L2936.0,680.0 L2939.3,666.3 Z M1762.9,312.4 L1777.0,313.5 L1766.7,303.9 Z M1851.8,304.9 L1840.6,313.5 L1854.7,313.7 Z M2182.1,520.2 L2177.5,533.6 L2189.4,526.0 Z M1799.3,374.0 L1804.0,387.3 L1808.7,374.0 Z M2155.0,393.7 L2169.0,391.5 L2156.7,384.5 Z M3162.3,672.1 L3174.0,680.0 L3169.7,666.5 Z M1441.0,451.1 L1430.0,460.0 L1444.1,459.9 Z M2137.2,524.4 L2148.0,533.6 L2145.3,519.7 Z M1799.3,447.3 L1804.0,460.6 L1808.7,447.3 Z M1961.9,460.0 L1976.0,460.0 L1965.0,451.2 Z M1638.7,451.4 L1627.5,460.0 L1641.6,460.2 Z M1472.7,453.1 L1460.4,460.0 L1474.3,462.3 Z M1282.7,454.8 L1270.0,461.0 L1283.8,464.1 Z M916.7,523.3 L907.0,533.5 L921.0,531.6 Z M498.8,666.5 L494.7,680.0 L506.3,672.0 Z M1970.1,527.3 L1959.5,536.6 L1973.6,535.9 Z M2087.5,533.0 L2101.6,533.6 L2091.0,524.3 Z M3888.9,752.3 L3903.0,753.5 L3892.8,743.8 Z M3589.3,812.9 L3590.0,827.0 L3598.2,815.5 Z M3528.7,739.4 L3528.0,753.5 L3537.4,742.9 Z M3311.7,607.8 L3325.7,606.0 L3313.6,598.6 Z M2705.2,747.6 L2718.0,753.5 L2711.6,740.9 Z M3250.7,753.7 L3238.0,760.0 L3251.8,763.0 Z M1695.3,834.2 L1682.0,839.0 L1695.4,843.6 Z M3024.4,675.2 L3012.0,682.0 L3025.9,684.4 Z M3423.4,672.0 L3435.0,680.0 L3430.9,666.5 Z M3513.5,739.4 L3514.0,753.5 L3522.4,742.1 Z M2916.1,749.7 L2904.0,757.0 L2918.0,758.9 Z M2004.1,758.7 L1991.0,764.0 L2004.5,768.0 Z M1695.3,835.2 L1682.0,840.0 L1695.4,844.6 Z M3431.9,753.2 L3446.0,752.0 L3434.3,744.1 Z M2004.1,756.7 L1991.0,762.0 L2004.5,766.1 Z M2781.0,744.7 L2770.0,753.5 L2784.1,753.5 Z M1695.3,833.2 L1682.0,838.0 L1695.4,842.5 Z M2947.0,741.9 L2955.0,753.5 L2956.0,739.4 Z M3022.2,750.6 L3036.0,753.5 L3027.0,742.6 Z M3123.9,754.0 L3138.0,753.5 L3126.6,745.1 Z M3388.1,759.4 L3402.0,757.0 L3389.6,750.2 Z M3054.3,739.9 L3058.0,753.5 L3063.6,740.5 Z M3046.4,740.5 L3052.0,753.5 L3055.7,739.9 Z M3539.2,833.7 L3553.0,830.5 L3540.2,824.4 Z M1904.9,763.2 L1919.0,762.0 L1907.2,754.2 Z M1469.4,837.9 L1483.0,834.0 L1469.9,828.6 Z M1469.4,836.7 L1483.0,833.0 L1470.0,827.4 Z M1000.2,764.9 L1014.0,762.0 L1001.4,755.6 Z M1469.4,839.9 L1483.0,836.0 L1469.9,830.6 Z M913.4,742.2 L905.0,753.5 L918.7,749.9 Z M1185.9,754.2 L1200.0,753.5 L1188.5,745.2 Z M512.3,667.9 L505.0,680.0 L518.3,675.1 Z M1469.4,838.9 L1483.0,835.0 L1470.0,829.6 Z M1525.9,826.5 L1540.0,826.0 L1528.7,817.6 Z M1009.3,666.4 L1008.0,680.5 L1017.8,670.3 Z M1167.5,520.3 L1171.0,534.0 L1176.8,521.1 Z M1230.9,667.7 L1237.0,680.5 L1240.2,666.7 Z M2062.3,547.4 L2076.0,544.0 L2063.1,538.1 Z M2240.2,746.5 L2232.0,758.0 L2245.6,754.1 Z M1696.0,828.5 L1683.0,834.0 L1696.6,837.8 Z M1092.2,684.9 L1079.0,690.0 L1092.5,694.2 Z M2832.0,755.7 L2846.0,754.0 L2834.0,746.6 Z M2468.8,665.9 L2468.0,680.0 L2477.4,669.5 Z M2534.6,673.2 L2547.0,680.0 L2541.6,667.0 Z M2307.6,681.6 L2295.0,688.0 L2308.8,690.8 Z M2244.8,759.0 L2232.0,765.0 L2245.7,768.3 Z M1695.9,830.2 L1683.0,836.0 L1696.7,839.5 Z M2912.9,679.7 L2927.0,680.0 L2916.2,670.9 Z M2852.4,691.7 L2866.0,688.0 L2853.1,682.3 Z M3456.3,750.0 L3470.0,753.5 L3461.5,742.2 Z M1696.3,835.7 L1683.0,840.5 L1696.4,845.1 Z M1696.3,833.2 L1683.0,838.0 L1696.4,842.5 Z M1573.5,815.7 L1582.0,827.0 L1582.4,812.9 Z M1606.7,812.9 L1606.0,827.0 L1615.3,816.4 Z M1284.4,677.2 L1272.0,684.0 L1285.9,686.4 Z M1589.6,812.9 L1591.0,827.0 L1598.7,815.2 Z M695.0,677.9 L682.0,683.5 L695.6,687.3 Z M1516.9,820.8 L1530.0,826.0 L1523.0,813.7 Z M1592.8,593.9 L1598.0,607.0 L1602.1,593.5 Z M980.9,673.2 L993.0,680.5 L988.1,667.3 Z M2911.9,674.6 L2925.0,680.0 L2918.1,667.7 Z"/>
<rect x="2659.75" y="4.87" width="168.50" height="40.50" fill="#999999" stroke="#666666" stroke-width="1.6"/>
<rect x="1483.02" y="826.53" width="199.16" height="25.83" fill="#ffffff" stroke="#666666" stroke-width="1.6"/>
<rect x="2076.28" y="533.20" width="161.84" height="25.83" fill="#ffffff" stroke="#666666" stroke-width="1.6"/>
<rect x="2234.22" y="679.87" width="59.17" height="25.83" fill="#e0e0e0" stroke="#999999" stroke-width="1.6"/>
<rect x="2244.38" y="606.53" width="61.83" height="25.83" fill="#e0e0e0" stroke="#999999" stroke-width="1.6"/>
<rect x="2163.82" y="753.20" width="67.17" height="25.83" fill="#e0e0e0" stroke="#999999" stroke-width="1.6"/>
<rect x="2329.62" y="606.53" width="67.17" height="25.83" fill="#e0e0e0" stroke="#999999" stroke-width="1.6"/>
<rect x="3013.98" y="753.20" width="85.83" height="25.83" fill="#e0e0e0" stroke="#999999" stroke-width="1.6"/>
<rect x="3401.58" y="753.20" width="185.84" height="25.83" fill="#ffffff" stroke="#666666" stroke-width="1.6"/>
<rect x="3768.82" y="826.53" width="67.17" height="25.83" fill="#e0e0e0" stroke="#999999" stroke-width="1.6"/>
<rect x="3459.28" y="826.53" width="69.83" height="25.83" fill="#e0e0e0" stroke="#999999" stroke-width="1.6"/>
<rect x="3552.35" y="826.53" width="60.50" height="25.83" fill="#e0e0e0" stroke="#999999" stroke-width="1.6"/>
<rect x="3358.75" y="826.53" width="76.50" height="25.83" fill="#e0e0e0" stroke="#999999" stroke-width="1.6"/>
<rect x="923.42" y="679.87" width="155.17" height="25.83" fill="#ffffff" stroke="#666666" stroke-width="1.6"/>
<rect x="830.35" y="753.20" width="108.50" height="25.83" fill="#e0e0e0" stroke="#999999" stroke-width="1.6"/>
<rect x="1154.05" y="753.20" width="180.50" height="25.83" fill="#ffffff" stroke="#666666" stroke-width="1.6"/>
<rect x="2865.95" y="679.87" width="144.50" height="25.83" fill="#ffffff" stroke="#666666" stroke-width="1.6"/>
<rect x="2926.82" y="753.20" width="63.17" height="25.83" fill="#e0e0e0" stroke="#999999" stroke-width="1.6"/>
<rect x="1918.72" y="753.20" width="71.17" height="25.83" fill="#e0e0e0" stroke="#999999" stroke-width="1.6"/>
<rect x="3124.22" y="753.20" width="111.17" height="25.83" fill="#e0e0e0" stroke="#999999" stroke-width="1.6"/>
<rect x="2684.22" y="753.20" width="87.17" height="25.83" fill="#e0e0e0" stroke="#999999" stroke-width="1.6"/>
<rect x="1928.02" y="606.53" width="191.17" height="25.83" fill="#ffffff" stroke="#666666" stroke-width="1.6"/>
<rect x="1946.88" y="679.87" width="161.84" height="25.83" fill="#ffffff" stroke="#666666" stroke-width="1.6"/>
<rect x="1014.15" y="753.20" width="64.50" height="25.83" fill="#e0e0e0" stroke="#999999" stroke-width="1.6"/>
<rect x="1772.12" y="679.87" width="151.16" height="25.83" fill="#ffffff" stroke="#666666" stroke-width="1.6"/>
<rect x="588.25" y="679.87" width="92.50" height="25.83" fill="#e0e0e0" stroke="#999999" stroke-width="1.6"/>
<rect x="2421.18" y="606.53" width="145.83" height="25.83" fill="#ffffff" stroke="#666666" stroke-width="1.6"/>
<rect x="2846.45" y="753.20" width="56.50" height="25.83" fill="#e0e0e0" stroke="#999999" stroke-width="1.6"/>
<rect x="2530.12" y="679.87" width="59.17" height="25.83" fill="#e0e0e0" stroke="#999999" stroke-width="1.6"/>
<rect x="2418.62" y="679.87" width="87.17" height="25.83" fill="#e0e0e0" stroke="#999999" stroke-width="1.6"/>
<rect x="1926.02" y="93.20" width="211.16" height="25.83" fill="#ffffff" stroke="#666666" stroke-width="1.6"/>
<rect x="1724.78" y="313.20" width="157.83" height="25.83" fill="#ffffff" stroke="#666666" stroke-width="1.6"/>
<rect x="3136.05" y="679.87" width="156.50" height="25.83" fill="#ffffff" stroke="#666666" stroke-width="1.6"/>
<rect x="1298.08" y="459.87" width="181.83" height="25.83" fill="#ffffff" stroke="#666666" stroke-width="1.6"/>
<rect x="1721.75" y="386.53" width="164.50" height="25.83" fill="#ffffff" stroke="#666666" stroke-width="1.6"/>
<rect x="1894.25" y="533.20" width="64.50" height="25.83" fill="#e0e0e0" stroke="#999999" stroke-width="1.6"/>
<rect x="3848.08" y="753.20" width="169.83" height="25.83" fill="#ffffff" stroke="#666666" stroke-width="1.6"/>
<rect x="1706.42" y="459.87" width="195.17" height="25.83" fill="#ffffff" stroke="#666666" stroke-width="1.6"/>
<rect x="1203.42" y="679.87" width="67.17" height="25.83" fill="#e0e0e0" stroke="#999999" stroke-width="1.6"/>
<rect x="798.95" y="533.20" width="164.50" height="25.83" fill="#ffffff" stroke="#666666" stroke-width="1.6"/>
<rect x="849.62" y="606.53" width="63.17" height="25.83" fill="#e0e0e0" stroke="#999999" stroke-width="1.6"/>
<rect x="613.45" y="606.53" width="212.50" height="25.83" fill="#ffffff" stroke="#666666" stroke-width="1.6"/>
<rect x="756.02" y="679.87" width="143.17" height="25.83" fill="#e0e0e0" stroke="#999999" stroke-width="1.6"/>
<rect x="397.42" y="679.87" width="167.17" height="25.83" fill="#ffffff" stroke="#666666" stroke-width="1.6"/>
<rect x="1084.32" y="459.87" width="183.17" height="25.83" fill="#ffffff" stroke="#666666" stroke-width="1.6"/>
<rect x="1139.52" y="533.20" width="59.17" height="25.83" fill="#e0e0e0" stroke="#999999" stroke-width="1.6"/>
<rect x="1504.18" y="459.87" width="177.83" height="25.83" fill="#ffffff" stroke="#666666" stroke-width="1.6"/>
<rect x="1399.92" y="533.20" width="163.16" height="25.83" fill="#ffffff" stroke="#666666" stroke-width="1.6"/>
<rect x="1568.38" y="606.53" width="61.83" height="25.83" fill="#e0e0e0" stroke="#999999" stroke-width="1.6"/>
<rect x="1332.38" y="606.53" width="161.84" height="25.83" fill="#ffffff" stroke="#666666" stroke-width="1.6"/>
<rect x="1395.95" y="679.87" width="148.50" height="25.83" fill="#ffffff" stroke="#666666" stroke-width="1.6"/>
<rect x="1489.62" y="753.20" width="55.17" height="25.83" fill="#e0e0e0" stroke="#999999" stroke-width="1.6"/>
<rect x="3310.68" y="606.53" width="153.83" height="25.83" fill="#ffffff" stroke="#666666" stroke-width="1.6"/>
<rect x="3417.92" y="679.87" width="51.17" height="25.83" fill="#e0e0e0" stroke="#999999" stroke-width="1.6"/>
<rect x="1976.55" y="459.87" width="68.50" height="25.83" fill="#e0e0e0" stroke="#999999" stroke-width="1.6"/>
<rect x="2170.82" y="386.53" width="63.17" height="25.83" fill="#e0e0e0" stroke="#999999" stroke-width="1.6"/>
<rect x="1933.92" y="239.87" width="167.17" height="25.83" fill="#ffffff" stroke="#666666" stroke-width="1.6"/>
<rect x="2780.95" y="166.53" width="208.50" height="25.83" fill="#ffffff" stroke="#666666" stroke-width="1.6"/>
<rect x="2693.65" y="606.53" width="164.50" height="25.83" fill="#ffffff" stroke="#666666" stroke-width="1.6"/>
<rect x="1566.15" y="239.87" width="148.50" height="25.83" fill="#ffffff" stroke="#666666" stroke-width="1.6"/>
<rect x="1845.08" y="166.53" width="149.84" height="25.83" fill="#ffffff" stroke="#666666" stroke-width="1.6"/>
<g font-family="'Liberation Sans', sans-serif" font-size="14.1" fill="#000" style="filter:grayscale(1)" lengthAdjust="spacingAndGlyphs">
<text x="2671.4" y="21.5" textLength="145.1">include/promeki/proav</text>
<text x="2700.3" y="36.7" textLength="87.5">/fontpainter.h</text>
<text x="1494.4" y="843.2" textLength="176.5">promeki/core/namespace.h</text>
<text x="2087.7" y="549.9" textLength="139.0">promeki/core/string.h</text>
<text x="2245.2" y="696.6" textLength="37.1">string</text>
<text x="2256.0" y="623.2" textLength="38.6">cstdio</text>
<text x="2175.4" y="769.9" textLength="44.0">cstdint</text>
<text x="2341.1" y="623.2" textLength="44.2">cstring</text>
<text x="3025.7" y="769.9" textLength="62.4">algorithm</text>
<text x="3412.8" y="769.9" textLength="163.3">promeki/core/sharedptr.h</text>
<text x="3780.3" y="843.2" textLength="44.2">atomic</text>
<text x="3470.8" y="843.2" textLength="46.9">cassert</text>
<text x="3564.2" y="843.2" textLength="36.8">utility</text>
<text x="3370.4" y="843.2" textLength="53.1">typeinfo</text>
<text x="935.0" y="696.6" textLength="132.0">promeki/core/error.h</text>
<text x="842.3" y="769.9" textLength="84.5">system_error</text>
<text x="1165.9" y="769.9" textLength="156.8">promeki/core/platform.h</text>
<text x="2877.8" y="696.6" textLength="120.8">promeki/core/list.h</text>
<text x="2937.9" y="769.9" textLength="41.0">vector</text>
<text x="1930.4" y="769.9" textLength="47.9">cstddef</text>
<text x="3137.5" y="769.9" textLength="84.7">initializer_list</text>
<text x="2695.6" y="769.9" textLength="64.4">functional</text>
<text x="1939.5" y="623.2" textLength="168.1">promeki/core/stringdata.h</text>
<text x="1958.6" y="696.6" textLength="138.4">promeki/core/fnv1a.h</text>
<text x="1025.8" y="769.9" textLength="41.3">mutex</text>
<text x="1783.1" y="696.6" textLength="129.2">promeki/core/char.h</text>
<text x="600.0" y="696.6" textLength="69.1">type_traits</text>
<text x="2432.9" y="623.2" textLength="122.3">promeki/core/util.h</text>
<text x="2857.7" y="769.9" textLength="33.9">array</text>
<text x="2542.1" y="696.6" textLength="35.2">limits</text>
<text x="2430.4" y="696.6" textLength="63.5">stdexcept</text>
<text x="1937.8" y="109.9" textLength="187.7">promeki/proav/paintengine.h</text>
<text x="1736.3" y="329.9" textLength="134.8">promeki/core/point.h</text>
<text x="3147.3" y="696.6" textLength="133.9">promeki/core/array.h</text>
<text x="1310.0" y="476.6" textLength="158.0">promeki/core/stringlist.h</text>
<text x="1733.1" y="403.2" textLength="141.9">promeki/core/logger.h</text>
<text x="1905.3" y="549.9" textLength="42.4">thread</text>
<text x="3860.0" y="769.9" textLength="146.1">promeki/core/atomic.h</text>
<text x="1718.2" y="476.6" textLength="171.6">promeki/core/timestamp.h</text>
<text x="1214.8" y="696.6" textLength="44.4">chrono</text>
<text x="810.0" y="549.9" textLength="142.4">promeki/core/queue.h</text>
<text x="860.9" y="623.2" textLength="40.5">queue</text>
<text x="625.3" y="623.2" textLength="188.8">promeki/core/waitcondition.h</text>
<text x="768.4" y="696.6" textLength="118.4">condition_variable</text>
<text x="409.4" y="696.6" textLength="143.1">promeki/core/mutex.h</text>
<text x="1095.8" y="476.6" textLength="160.2">promeki/core/datetime.h</text>
<text x="1150.9" y="549.9" textLength="36.3">ctime</text>
<text x="1516.2" y="476.6" textLength="153.9">promeki/core/promise.h</text>
<text x="1411.1" y="549.9" textLength="140.9">promeki/core/future.h</text>
<text x="1579.8" y="623.2" textLength="39.0">future</text>
<text x="1344.1" y="623.2" textLength="138.4">promeki/core/result.h</text>
<text x="1407.3" y="696.6" textLength="125.7">promeki/core/pair.h</text>
<text x="1500.7" y="769.9" textLength="33.0">tuple</text>
<text x="3322.3" y="623.2" textLength="130.6">promeki/core/map.h</text>
<text x="3429.1" y="696.6" textLength="28.7">map</text>
<text x="1988.0" y="476.6" textLength="45.7">variant</text>
<text x="2181.9" y="403.2" textLength="40.9">cmath</text>
<text x="1945.8" y="256.6" textLength="143.4">promeki/core/size2d.h</text>
<text x="2793.0" y="183.2" textLength="184.3">promeki/proav/pixelformat.h</text>
<text x="2705.0" y="623.2" textLength="141.8">promeki/core/fourcc.h</text>
<text x="1577.8" y="256.6" textLength="125.2">promeki/core/line.h</text>
<text x="1856.5" y="183.2" textLength="127.0">promeki/core/rect.h</text>
</g></svg></body></html>
